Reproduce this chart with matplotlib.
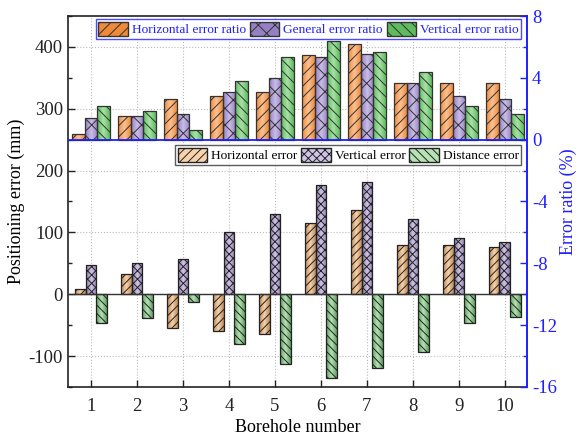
import numpy as np
import matplotlib
matplotlib.use("Agg")
import matplotlib.pyplot as plt
from matplotlib.colors import LinearSegmentedColormap
from matplotlib.patches import Patch

plt.rcParams['font.family'] = ['Liberation Serif', 'DejaVu Serif']
plt.rcParams['hatch.linewidth'] = 0.7
plt.rcParams['axes.unicode_minus'] = False

boreholes = [1, 2, 3, 4, 5, 6, 7, 8, 9, 10]

# error ratios (%)
horizontal_ratio = [0.37, 1.51, 2.61, 2.80, 3.08, 5.47, 6.19, 3.69, 3.69, 3.69]
general_ratio = [1.40, 1.51, 1.68, 3.08, 3.99, 5.34, 5.56, 3.69, 2.80, 2.61]
vertical_ratio = [2.18, 1.88, 0.60, 3.79, 5.34, 6.36, 5.67, 4.40, 2.18, 1.68]

# positioning errors (mm)
horizontal_err = [8, 32, -55, -60, -65, 115, 137, 79, 79, 77]
vertical_err = [47, 50, 57, 100, 130, 177, 182, 121, 91, 84]
distance_err = [-46, -39, -12, -80, -113, -135, -119, -93, -47, -36]

BLUE = '#1f1fff'

fig = plt.figure(figsize=(5.79, 4.36), dpi=100)
ax = fig.add_axes([0.1174, 0.1124, 0.7926, 0.8509])
ax2 = ax.twinx()

x = np.array(boreholes, dtype=float)


def shade_bars(axis, bars, edge_col, mid_col, hatch, z):
    """Fill each bar with a horizontal edge-to-centre gradient, then hatch it."""
    cmap = LinearSegmentedColormap.from_list('g', [edge_col, mid_col, edge_col])
    grad = np.linspace(0, 1, 64).reshape(1, -1)
    for r in bars:
        x0, y0 = r.get_x(), r.get_y()
        w, h = r.get_width(), r.get_height()
        im = axis.imshow(grad, cmap=cmap, aspect='auto', interpolation='bilinear',
                         extent=[x0, x0 + w, min(y0, y0 + h), max(y0, y0 + h)],
                         zorder=z)
        im.set_clip_path(r)
        r.set_facecolor('none')
        r.set_hatch(hatch)
        r.set_zorder(z + 0.1)


# lower panel: positioning errors on the left axis
bw = 0.232
lower = [
    (horizontal_err, -bw, '#b98a5c', '#f8d2aa', '////', 'Horizontal error'),
    (vertical_err, 0.0, '#8a7aa8', '#cfc4e6', 'xxxx', 'Vertical error'),
    (distance_err, bw, '#5f9e62', '#b6e2b4', '\\\\\\\\', 'Distance error'),
]
lower_handles = []
for vals, off, ec, mc, hatch, lab in lower:
    bars = ax.bar(x + off, vals, bw, bottom=0, edgecolor='#222222', linewidth=0.9)
    shade_bars(ax, bars, ec, mc, hatch, 3)
    lower_handles.append(Patch(facecolor=mc, edgecolor='#222222', hatch=hatch, label=lab))

# upper panel: error ratios on the right axis
tw = 0.272
upper = [
    (horizontal_ratio, -tw, '#ef8a3a', '#fbc293', '///', 'Horizontal error ratio'),
    (general_ratio, 0.0, '#9480c2', '#c9bde6', 'xx', 'General error ratio'),
    (vertical_ratio, tw, '#5ebc5e', '#a8e2a6', '\\\\\\', 'Vertical error ratio'),
]
upper_handles = []
for vals, off, ec, mc, hatch, lab in upper:
    bars = ax2.bar(x + off, vals, tw, bottom=0, edgecolor='#333333', linewidth=0.9)
    shade_bars(ax2, bars, ec, mc, hatch, 3)
    upper_handles.append(Patch(facecolor=ec, edgecolor='#333333', hatch=hatch, label=lab))

ax.axhline(0, color='#333333', lw=1.0, zorder=4)
ax2.axhline(0, color=BLUE, lw=1.3, zorder=5)

# axes limits and ticks
ax.set_xlim(0.5, 10.48)
ax.set_ylim(-150, 450)
ax2.set_ylim(-16, 8)
ax.set_xticks(boreholes)
ax.set_yticks([-100, 0, 100, 200, 300, 400])
ax.set_yticks(np.arange(-150, 451, 50), minor=True)
ax2.set_yticks([-16, -12, -8, -4, 0, 4, 8])
ax2.set_yticks(np.arange(-16, 9, 2), minor=True)

ax.grid(True, which='major', linestyle=':', color='#bbbbbb', lw=0.8, zorder=0)
ax.set_axisbelow(True)

ax.tick_params(axis='both', which='both', direction='in', labelsize=13.5, colors='#222222',
               top=False, right=False)
ax.tick_params(axis='y', which='major', length=5, width=1)
ax.tick_params(axis='y', which='minor', length=3, width=1)
ax.tick_params(axis='x', which='major', length=5, width=1, pad=8)
ax2.tick_params(axis='y', which='both', direction='in', colors=BLUE, labelsize=13.5)
ax2.tick_params(axis='y', which='major', length=5, width=1)
ax2.tick_params(axis='y', which='minor', length=3, width=1)

for s in ['left', 'bottom', 'top']:
    ax.spines[s].set_color('#222222')
    ax.spines[s].set_linewidth(1.2)
ax2.spines['right'].set_color(BLUE)
ax2.spines['right'].set_linewidth(1.4)
ax.spines['right'].set_visible(False)
for s in ['left', 'bottom', 'top']:
    ax2.spines[s].set_visible(False)

ax.set_xlabel('Borehole number', fontsize=13, labelpad=3)
ax.set_ylabel('Positioning error (mm)', fontsize=13, labelpad=3)
ax2.set_ylabel('Error ratio (%)', fontsize=13, color=BLUE, labelpad=2)

leg_kw = dict(ncol=3, loc='upper right', fontsize=9.6, frameon=True, fancybox=False,
              handlelength=2.2, handleheight=1.25, handletextpad=0.3,
              columnspacing=0.3, borderpad=0.2, borderaxespad=0)

leg1 = ax2.legend(handles=upper_handles, bbox_to_anchor=(0.988, 0.992),
                  edgecolor=BLUE, **leg_kw)
leg1.get_frame().set_linewidth(1.0)
for t in leg1.get_texts():
    t.set_color(BLUE)
leg1.set_zorder(10)

leg2 = ax2.legend(handles=lower_handles, bbox_to_anchor=(0.988, 0.652),
                  edgecolor='#333333', **leg_kw)
leg2.get_frame().set_linewidth(1.0)
leg2.set_zorder(10)
ax2.add_artist(leg1)

fig.savefig('out.png', dpi=100)
